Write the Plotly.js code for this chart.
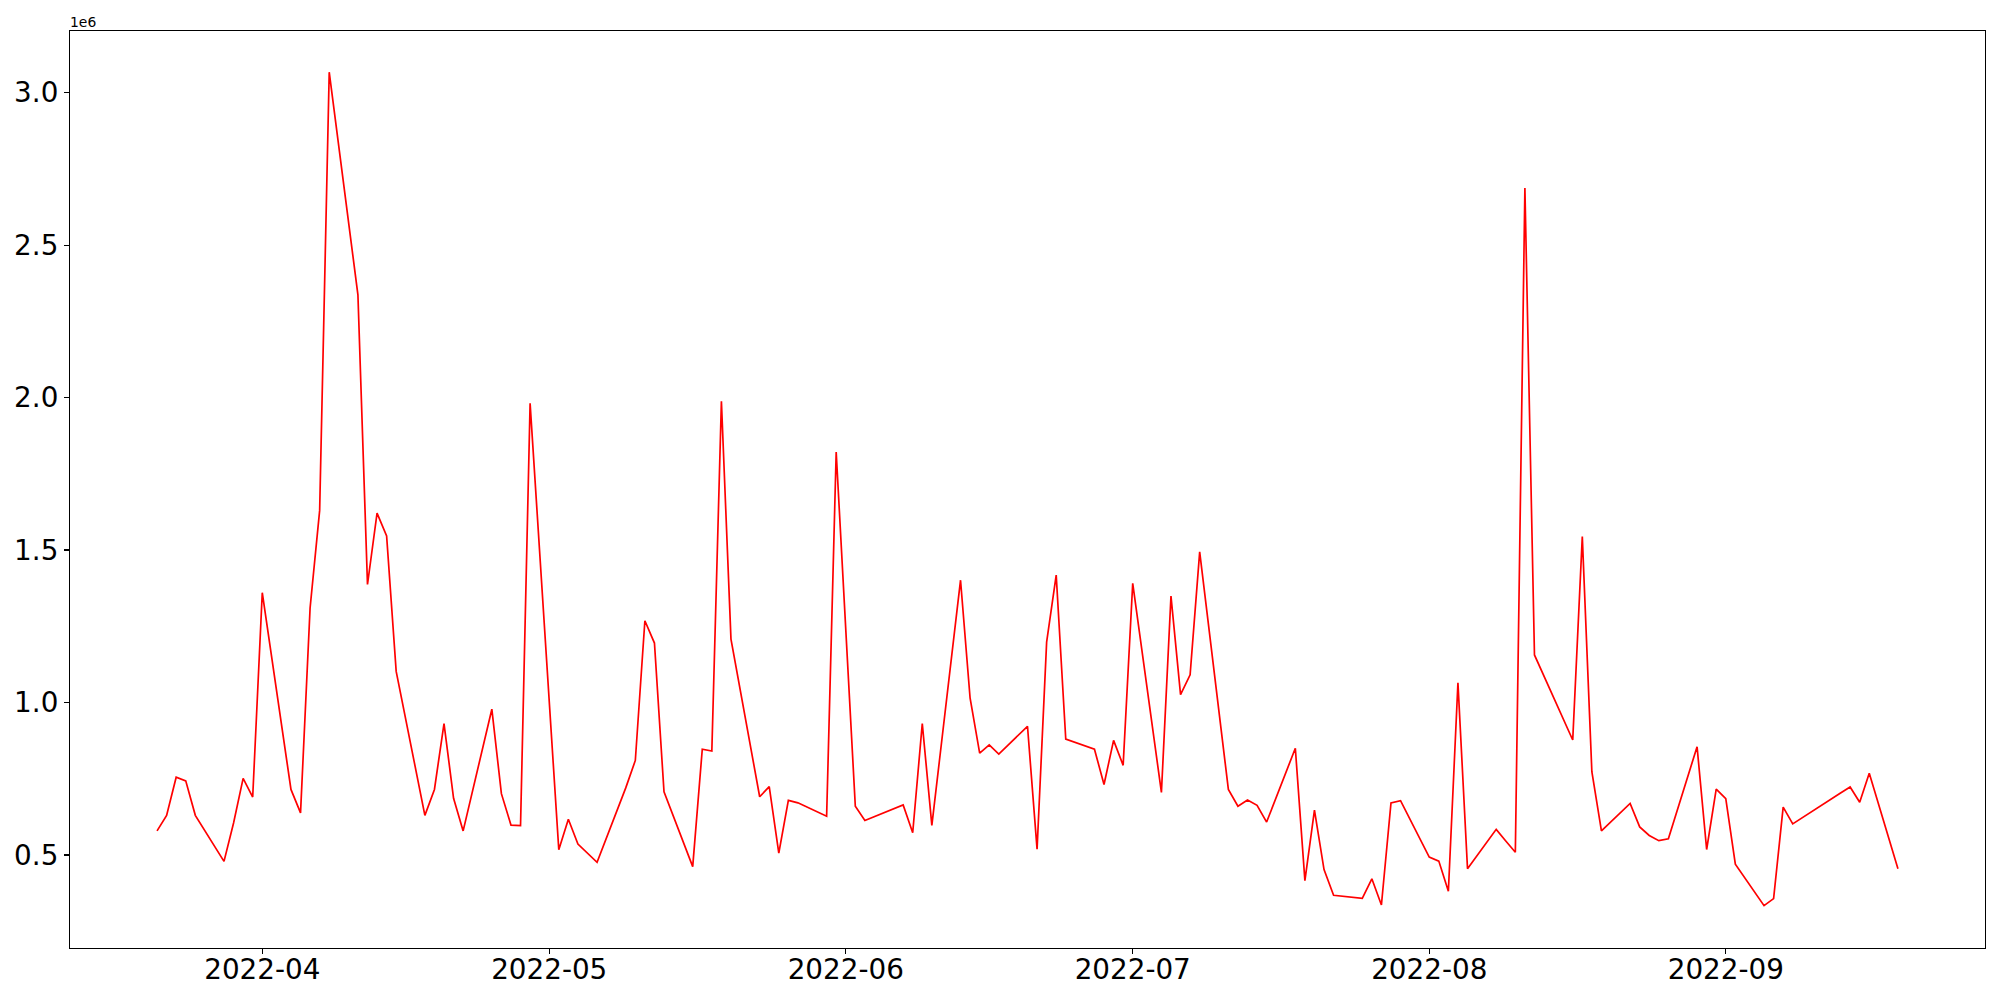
<!DOCTYPE html>
<html>
<head>
<meta charset="utf-8">
<script src="https://cdn.plot.ly/plotly-3.0.1.min.js"></script>
<style>html,body{margin:0;padding:0;background:#fff;}#chart{width:2000px;height:1000px;}</style>
</head>
<body>
<div id="chart"></div>
<script>
// Trading dates (x) and values (y)
const dates = [
  '2022-03-21','2022-03-22','2022-03-23','2022-03-24','2022-03-25','2022-03-28','2022-03-29','2022-03-30','2022-03-31',
  '2022-04-01','2022-04-04','2022-04-05','2022-04-06','2022-04-07','2022-04-08','2022-04-11','2022-04-12','2022-04-13','2022-04-14','2022-04-15',
  '2022-04-18','2022-04-19','2022-04-20','2022-04-21','2022-04-22','2022-04-25','2022-04-26','2022-04-27','2022-04-28','2022-04-29',
  '2022-05-02','2022-05-03','2022-05-04','2022-05-06','2022-05-09','2022-05-10','2022-05-11','2022-05-12','2022-05-13',
  '2022-05-16','2022-05-17','2022-05-18','2022-05-19','2022-05-20','2022-05-23','2022-05-24','2022-05-25','2022-05-26','2022-05-27',
  '2022-05-30','2022-05-31','2022-06-02','2022-06-03','2022-06-07','2022-06-08','2022-06-09','2022-06-10',
  '2022-06-13','2022-06-14','2022-06-15','2022-06-16','2022-06-17','2022-06-20','2022-06-21','2022-06-22','2022-06-23','2022-06-24',
  '2022-06-27','2022-06-28','2022-06-29','2022-06-30','2022-07-01','2022-07-04','2022-07-05','2022-07-06','2022-07-07','2022-07-08',
  '2022-07-11','2022-07-12','2022-07-13','2022-07-14','2022-07-15','2022-07-18','2022-07-19','2022-07-20','2022-07-21','2022-07-22',
  '2022-07-25','2022-07-26','2022-07-27','2022-07-28','2022-07-29','2022-08-01','2022-08-02','2022-08-03','2022-08-04','2022-08-05',
  '2022-08-08','2022-08-09','2022-08-10','2022-08-11','2022-08-12','2022-08-16','2022-08-17','2022-08-18','2022-08-19',
  '2022-08-22','2022-08-23','2022-08-24','2022-08-25','2022-08-26','2022-08-29','2022-08-30','2022-08-31','2022-09-01','2022-09-02',
  '2022-09-05','2022-09-06','2022-09-07','2022-09-08','2022-09-13','2022-09-14','2022-09-15','2022-09-16','2022-09-19'
];
const values = [
  579000,630000,755000,743000,630000,479000,605000,751000,690000,
  1360000,715000,638000,1310000,1630000,3067000,2337000,1387000,1621000,1546000,1102000,
  630000,715000,931000,686000,579000,978000,701000,598000,596000,1981000,
  517000,617000,536000,476000,720000,810000,1268000,1195000,707000,
  462000,847000,841000,1988000,1208000,691000,724000,506000,679000,671000,
  627000,1821000,660000,613000,664000,573000,931000,597000,
  1401000,1014000,834000,861000,831000,922000,519000,1198000,1418000,880000,
  847000,731000,876000,794000,1391000,705000,1349000,1026000,1091000,1494000,
  715000,660000,680000,663000,608000,850000,416000,647000,452000,368000,
  358000,422000,336000,671000,678000,493000,480000,381000,1065000,455000,
  584000,546000,509000,2687000,1156000,877000,1544000,773000,579000,
  669000,592000,564000,547000,553000,855000,518000,716000,685000,470000,
  334000,357000,657000,602000,703000,723000,673000,768000,455000
];
// Axis ticks
const xTickDates = ['2022-04-01','2022-05-01','2022-06-01','2022-07-01','2022-08-01','2022-09-01'];
const xTickLabels = ['2022-04','2022-05','2022-06','2022-07','2022-08','2022-09'];
const yTickVals = [500000,1000000,1500000,2000000,2500000,3000000];
const yTickLabels = ['0.5','1.0','1.5','2.0','2.5','3.0'];
const yOffsetText = '1e6';

const font = 'DejaVu Sans, sans-serif';

const trace = {
  x: dates, y: values, type: 'scatter', mode: 'lines',
  line: {color: '#ff0000', width: 1.7},
  hoverinfo: 'x+y'
};

const layout = {
  width: 2000, height: 1000,
  margin: {l: 70, r: 15, t: 31, b: 52, pad: 0},
  paper_bgcolor: '#ffffff', plot_bgcolor: '#ffffff',
  showlegend: false,
  font: {family: font, color: '#000000'},
  xaxis: {
    type: 'date',
    range: ['2022-03-11 21:36', '2022-09-28 02:24'],
    tickmode: 'array', tickvals: xTickDates, ticktext: xTickLabels,
    showgrid: false, zeroline: false,
    showline: true, mirror: true, linecolor: '#000000', linewidth: 1.1,
    ticks: 'outside', ticklen: 5, tickwidth: 1.1, tickcolor: '#000000',
    ticklabelstandoff: -8,
    tickfont: {family: font, size: 27.8, color: '#000000'}
  },
  yaxis: {
    range: [195000, 3202000],
    tickmode: 'array', tickvals: yTickVals, ticktext: yTickLabels,
    showgrid: false, zeroline: false,
    showline: true, mirror: true, linecolor: '#000000', linewidth: 1.1,
    ticks: 'outside', ticklen: 5, tickwidth: 1.1, tickcolor: '#000000',
    tickfont: {family: font, size: 27.8, color: '#000000'}
  },
  annotations: [{
    text: yOffsetText, xref: 'paper', yref: 'paper', x: 0, y: 1,
    xanchor: 'left', yanchor: 'bottom', showarrow: false,
    font: {family: font, size: 13.9, color: '#000000'}, xshift: -2, yshift: -1
  }]
};

Plotly.newPlot('chart', [trace], layout, {staticPlot: true, displayModeBar: false});
</script>
</body>
</html>
